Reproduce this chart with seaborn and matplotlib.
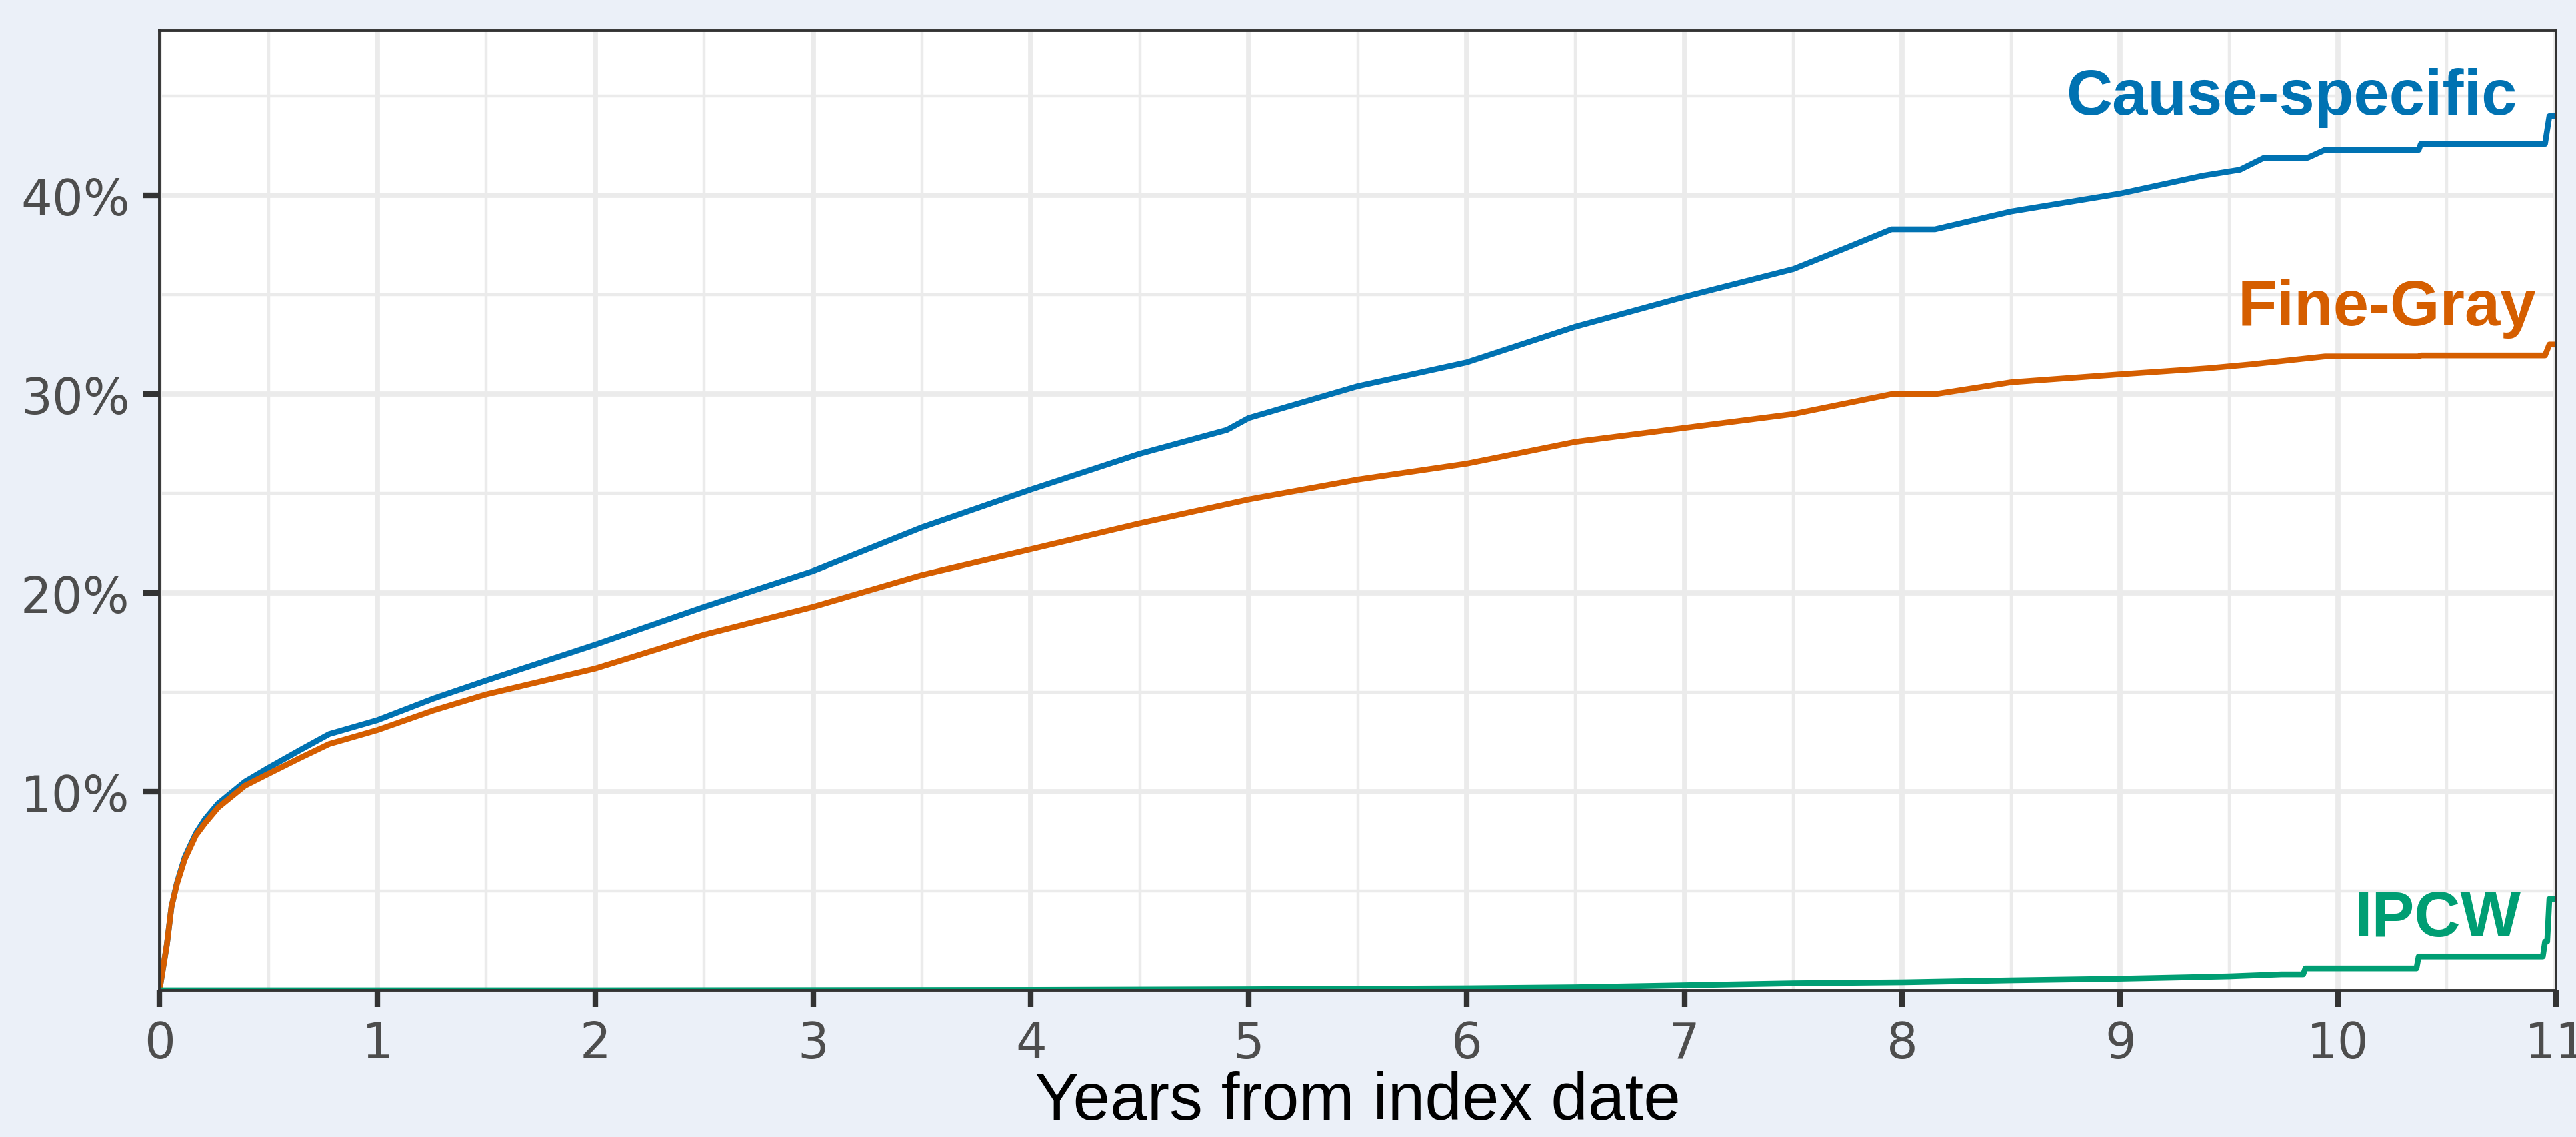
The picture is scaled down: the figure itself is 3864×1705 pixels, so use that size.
import pandas as pd
import matplotlib
matplotlib.use("Agg")
import matplotlib.pyplot as plt
import seaborn as sns

# Cumulative incidence (years, percent)
cs_time = [0, 0.034, 0.055, 0.08, 0.116, 0.167, 0.208, 0.269, 0.392, 0.5, 0.646, 0.779,
           1.0, 1.26, 1.5, 2.0, 2.5, 3.0, 3.5, 4.0, 4.5, 4.9, 5.0, 5.5, 6.0, 6.5, 7.0,
           7.5, 7.75, 7.95, 8.15, 8.5, 9.0, 9.38, 9.55, 9.66, 9.86, 9.94, 10.37, 10.38,
           10.95, 10.96, 10.97, 11.0]
cs_risk = [0, 2.3, 4.2, 5.4, 6.7, 7.9, 8.6, 9.4, 10.5, 11.2, 12.1, 12.9,
           13.6, 14.7, 15.6, 17.4, 19.3, 21.1, 23.3, 25.2, 27.0, 28.2, 28.8, 30.4, 31.6, 33.4, 34.9,
           36.3, 37.4, 38.3, 38.3, 39.2, 40.1, 41.0, 41.3, 41.9, 41.9, 42.3, 42.3, 42.6,
           42.6, 43.3, 44.0, 44.0]

fg_time = [0, 0.034, 0.055, 0.08, 0.116, 0.167, 0.208, 0.269, 0.392, 0.5, 0.646, 0.779,
           1.0, 1.26, 1.5, 2.0, 2.5, 3.0, 3.5, 4.0, 4.5, 5.0, 5.5, 6.0, 6.5, 7.0, 7.5,
           7.95, 8.15, 8.5, 9.0, 9.4, 9.6, 9.94, 10.37, 10.38, 10.95, 10.97, 11.0]
fg_risk = [0, 2.3, 4.2, 5.35, 6.6, 7.8, 8.4, 9.2, 10.3, 10.9, 11.7, 12.4,
           13.1, 14.1, 14.9, 16.2, 17.9, 19.3, 20.9, 22.2, 23.5, 24.7, 25.7, 26.5, 27.6, 28.3, 29.0,
           30.0, 30.0, 30.6, 31.0, 31.3, 31.5, 31.9, 31.9, 31.95, 31.95, 32.5, 32.5]

ipcw_time = [0, 2, 4, 5, 6, 6.5, 7, 7.5, 8, 8.5, 9, 9.3, 9.5, 9.74, 9.84, 9.85, 10.36, 10.37,
             10.94, 10.95, 10.96, 10.97, 11.0]
ipcw_risk = [0, 0.0, 0.02, 0.05, 0.1, 0.15, 0.25, 0.35, 0.4, 0.5, 0.58, 0.65, 0.7, 0.8, 0.8, 1.1, 1.1, 1.7,
             1.7, 2.45, 2.45, 4.6, 4.6]

methods = ["Cause-specific", "Fine-Gray", "IPCW"]
colors = ["#0072B2", "#D55E00", "#009E73"]
label_x = [10.82, 10.91, 10.84]
label_y = [44.1, 33.5, 2.75]

x_ticks = list(range(12))
x_minor = [i + 0.5 for i in range(11)]
y_ticks = [10, 20, 30, 40]
y_minor = [5, 15, 25, 35, 45]
y_labels = ["10%", "20%", "30%", "40%"]

df = pd.concat([
    pd.DataFrame({"years": cs_time, "risk": cs_risk, "method": methods[0]}),
    pd.DataFrame({"years": fg_time, "risk": fg_risk, "method": methods[1]}),
    pd.DataFrame({"years": ipcw_time, "risk": ipcw_risk, "method": methods[2]}),
], ignore_index=True)

sns.set_theme(style="white")
plt.rcParams["font.family"] = ["DejaVu Sans"]

fig, ax = plt.subplots(figsize=(19.32, 8.53), dpi=200)
fig.patch.set_facecolor("#EBF0F8")
ax.set_facecolor("white")
fig.subplots_adjust(left=0.0619, right=0.9922, top=0.9724, bottom=0.129)

sns.lineplot(data=df, x="years", y="risk", hue="method", hue_order=methods,
             palette=colors, estimator=None, sort=False, lw=3.1, legend=False, ax=ax)

ax.set_xlim(0, 11)
ax.set_ylim(0, 48.3)
ax.set_xticks(x_ticks)
ax.set_xticks(x_minor, minor=True)
ax.set_yticks(y_ticks)
ax.set_yticklabels(y_labels)
ax.set_yticks(y_minor, minor=True)

ax.set_axisbelow(True)
ax.grid(which="major", color="#EBEBEB", lw=2.8)
ax.grid(which="minor", color="#EBEBEB", lw=1.6)

ax.tick_params(which="major", length=9, width=3, color="#333333",
               labelcolor="#4D4D4D", labelsize=26.5, pad=7)
ax.tick_params(which="minor", length=0)
ax.tick_params(axis="x", bottom=True)
ax.tick_params(axis="y", left=True)
for sp in ax.spines.values():
    sp.set_color("#333333")
    sp.set_linewidth(1.4)
    sp.set_visible(True)

ax.set_xlabel("Years from index date", fontsize=36, family=["Liberation Sans", "DejaVu Sans"],
              color="black", labelpad=1)
ax.set_ylabel("")

# series labels at the right end
for name, col, lx, ly in zip(methods, colors, label_x, label_y):
    ax.text(lx, ly, name, color=col, ha="right", va="baseline", fontsize=34.5,
            fontweight="bold", family=["Liberation Sans", "DejaVu Sans"])

fig.savefig("out.png", dpi=200, facecolor=fig.get_facecolor())
